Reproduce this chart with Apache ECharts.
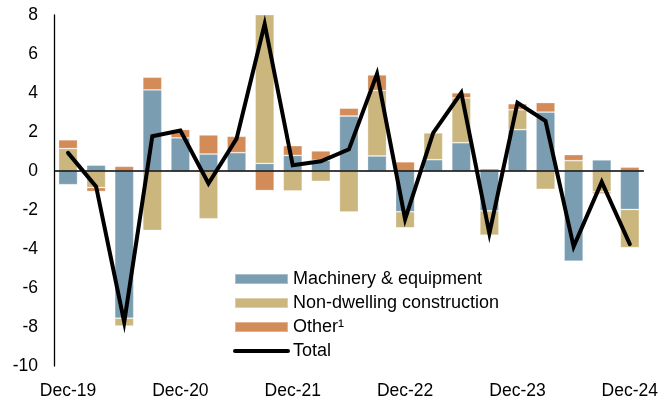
<!DOCTYPE html>
<html>
<head>
<meta charset="utf-8">
<script src="https://cdn.jsdelivr.net/npm/echarts@6/dist/echarts.min.js"></script>
<style>html,body{margin:0;padding:0;background:#fff}#c{width:661px;height:400px}</style>
</head>
<body>
<div id="c"></div>
<script>
var categories = ["Dec-19","Mar-20","Jun-20","Sep-20","Dec-20","Mar-21","Jun-21","Sep-21","Dec-21","Mar-22","Jun-22","Sep-22","Dec-22","Mar-23","Jun-23","Sep-23","Dec-23","Mar-24","Jun-24","Sep-24","Dec-24"];
var machinery = [-0.7, 0.3, -7.55, 4.16, 1.7, 0.87, 0.94, 0.39, 0.8, 0.55, 2.82, 0.77, -2.09, 0.58, 1.45, -2.04, 2.12, 3.02, -4.62, 0.57, -1.97];
var construction = [1.15, -0.85, -0.4, -3.05, -0.05, -2.45, -0.05, 8.15, -1.02, -0.53, -2.1, 3.36, -0.82, 1.38, 2.3, -1.25, 1.02, -0.94, 0.53, -1.07, -1.96];
var other = [0.45, -0.2, 0.24, 0.65, 0.43, 0.98, 0.84, -1.0, 0.5, 0.48, 0.4, 0.8, 0.47, 0.0, 0.26, 0.12, 0.31, 0.49, 0.31, -0.1, 0.2];
var total = [0.93, -0.8, -7.75, 1.78, 2.08, -0.64, 1.66, 7.54, 0.29, 0.5, 1.11, 4.98, -2.47, 1.95, 4.01, -3.2, 3.5, 2.56, -3.88, -0.56, -3.75];
var yTicks = {min: -10, max: 8, interval: 2};

var chart = echarts.init(document.getElementById('c'), null, {renderer: 'canvas'});
var font = 'Liberation Sans, Arial, sans-serif';
function bar(name, data, color) {
  return {
    name: name, type: 'bar', stack: 'a', data: data, barWidth: 19,
    itemStyle: {color: color, borderColor: 'rgba(255,255,255,0.35)', borderWidth: 0.8},
    emphasis: {disabled: true}
  };
}
var s1 = bar('Machinery & equipment', machinery, '#7A9DB2');
s1.markLine = {
  silent: true, symbol: 'none', label: {show: false},
  lineStyle: {color: '#000', width: 1.6, type: 'solid'},
  data: [{yAxis: 0}]
};
chart.setOption({
  animation: false,
  grid: {left: 54, right: 16, top: 15, bottom: 33, containLabel: false},
  legend: {
    orient: 'vertical', left: 228, top: 265, itemWidth: 53, itemHeight: 10, itemGap: 6,
    textStyle: {fontFamily: font, fontSize: 18, color: '#000', lineHeight: 18},
    data: [
      {name: 'Machinery & equipment', icon: 'rect'},
      {name: 'Non-dwelling construction', icon: 'rect'},
      {name: 'Other¹', icon: 'rect'},
      {name: 'Total', itemStyle: {opacity: 0}, lineStyle: {width: 4, color: '#000', cap: 'round'}}
    ]
  },
  xAxis: {
    type: 'category', data: categories, boundaryGap: true,
    axisLine: {show: false, onZero: false}, axisTick: {show: false},
    axisLabel: {interval: 3, color: '#000', fontFamily: font, fontSize: 17.5, margin: 16},
    splitLine: {show: false}
  },
  yAxis: {
    type: 'value', min: yTicks.min, max: yTicks.max, interval: yTicks.interval,
    axisLine: {show: true, lineStyle: {color: '#000', width: 1.3}},
    axisTick: {show: false}, splitLine: {show: false},
    axisLabel: {color: '#000', fontFamily: font, fontSize: 17.5, margin: 16}
  },
  series: [
    s1,
    bar('Non-dwelling construction', construction, '#CBB67E'),
    bar('Other¹', other, '#D38B58'),
    {
      name: 'Total', type: 'line', data: total, symbol: 'none', showSymbol: false,
      lineStyle: {color: '#000', width: 4, cap: 'round', join: 'miter'},
      itemStyle: {color: '#000'}, z: 5, emphasis: {disabled: true}
    }
  ]
});
</script>
</body>
</html>
